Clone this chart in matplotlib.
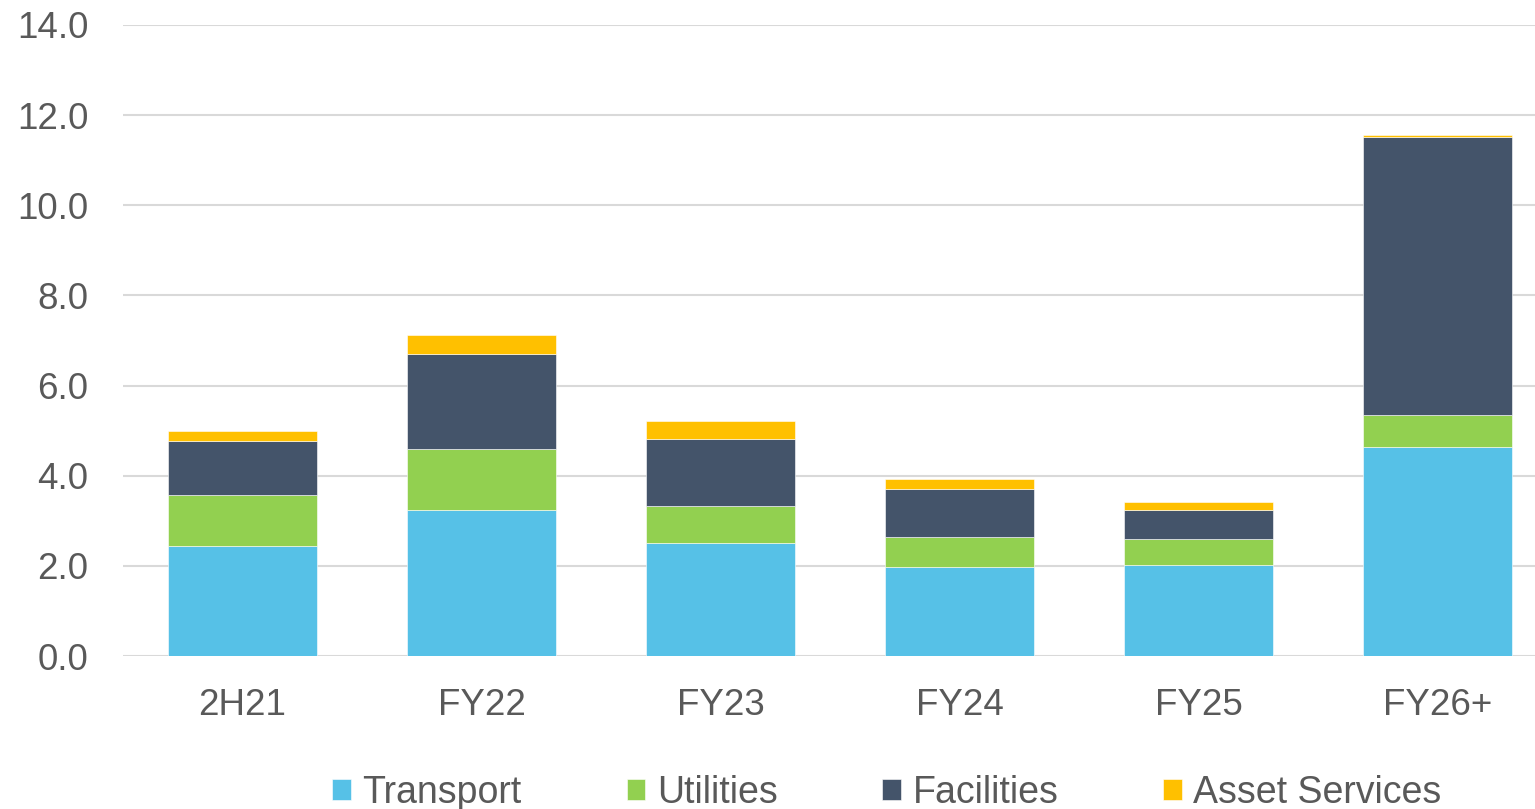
import matplotlib
matplotlib.use("Agg")
import matplotlib.pyplot as plt
import numpy as np

categories = ["2H21", "FY22", "FY23", "FY24", "FY25", "FY26+"]
transport = [2.45, 3.23, 2.50, 1.97, 2.02, 4.64]
utilities = [1.12, 1.37, 0.83, 0.66, 0.57, 0.70]
facilities = [1.21, 2.09, 1.48, 1.08, 0.65, 6.17]
asset_services = [0.22, 0.43, 0.40, 0.22, 0.18, 0.04]
series_names = ["Transport", "Utilities", "Facilities", "Asset Services"]
colors = ["#56C1E7", "#92D050", "#44546A", "#FFC000"]
yticks = [0, 2, 4, 6, 8, 10, 12, 14]

plt.rcParams['font.family'] = ['Liberation Sans', 'DejaVu Sans']
text_color = "#595959"

fig = plt.figure(figsize=(15.35, 8.09), dpi=100)
ax = fig.add_axes([123/1535, 153/809, 1434/1535, 631/809])

x = np.arange(len(categories))
bottom = np.zeros(len(categories))
handles = []
for name, vals, c in zip(series_names, [transport, utilities, facilities, asset_services], colors):
    b = ax.bar(x, vals, width=0.623, bottom=bottom, color=c, label=name,
               edgecolor="white", linewidth=0.4, zorder=3)
    handles.append(b)
    bottom += np.array(vals)

ax.set_xlim(-0.5, len(categories) - 0.5)
ax.set_ylim(0, 14)
ax.set_yticks(yticks)
ax.set_yticklabels([f"{v:.1f}" for v in yticks])
ax.set_xticks(x)
ax.set_xticklabels(categories)
ax.grid(axis="y", color="#D9D9D9", linewidth=1.5, zorder=0)
for s in ax.spines.values():
    s.set_visible(False)
ax.tick_params(axis="y", length=0, pad=25, labelsize=26.5, labelcolor=text_color)
ax.tick_params(axis="x", length=0, pad=23, labelsize=26.5, labelcolor=text_color)

leg = fig.legend(handles=handles, labels=series_names, loc="center",
                 bbox_to_anchor=(887/1535, 16/809), ncol=4, frameon=False,
                 fontsize=27, handlelength=0.5, handleheight=0.5,
                 handletextpad=0.3, columnspacing=2.8, borderpad=0)
for t in leg.get_texts():
    t.set_color(text_color)

fig.savefig("out.png", dpi=100)
